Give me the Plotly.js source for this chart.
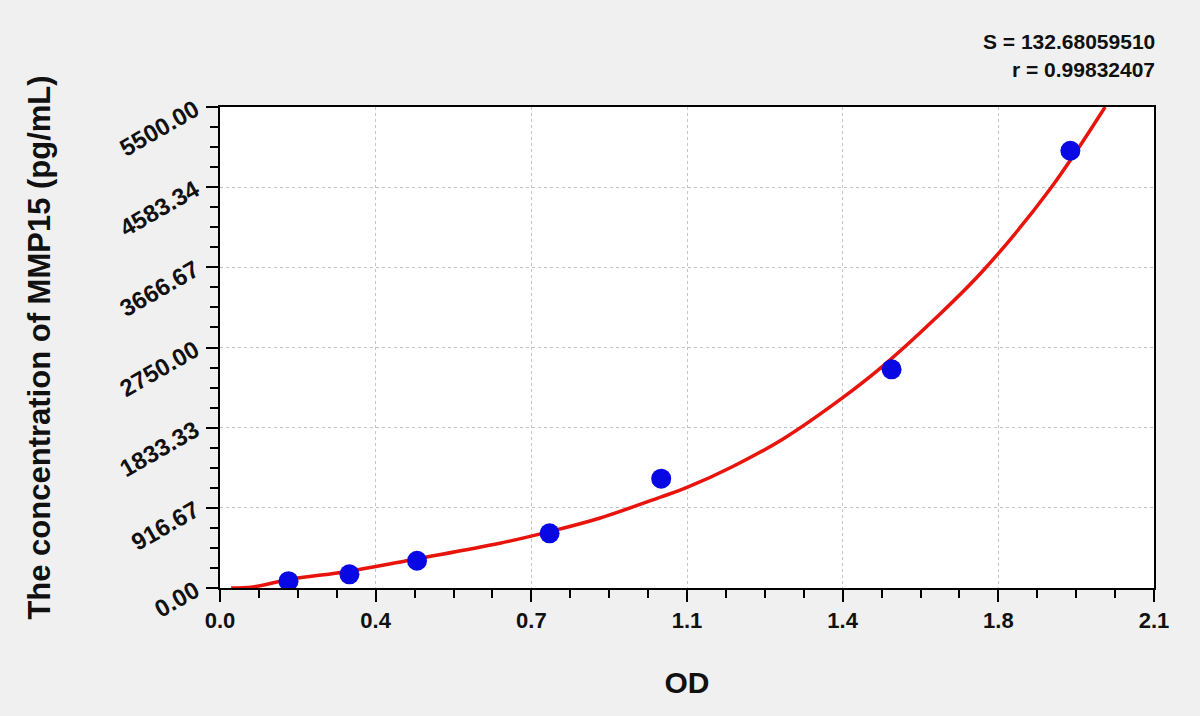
<!DOCTYPE html>
<html>
<head>
<meta charset="utf-8">
<script src="https://cdn.plot.ly/plotly-3.0.1.min.js"></script>
<style>
  html, body { margin: 0; padding: 0; background: #f0f0f0; }
  #chart { width: 1200px; height: 716px; }
</style>
</head>
<body>
<div id="chart"></div>
<script>
// standard points (OD vs concentration)
const odValues = [0.154, 0.291, 0.443, 0.741, 0.992, 1.510, 1.912];
const concValues = [78, 156, 312, 625, 1250, 2500, 5000];

// fitted curve
const curveOd = [0.025, 0.074, 0.156, 0.291, 0.441, 0.629, 0.741, 0.853, 0.992, 1.05, 1.153, 1.266, 1.401, 1.491, 1.607, 1.716, 1.866, 1.99];
const curveConc = [0, 12, 98, 192, 332, 512, 645, 798, 1042, 1150, 1390, 1705, 2180, 2540, 3075, 3630, 4560, 5500];

const xTickVals = [0, 0.35, 0.7, 1.05, 1.4, 1.75, 2.1];
const xTickText = ["0.0", "0.4", "0.7", "1.1", "1.4", "1.8", "2.1"];
const yTickVals = [0, 916.67, 1833.33, 2750, 3666.67, 4583.34, 5500];
const yTickText = ["0.00", "916.67", "1833.33", "2750.00", "3666.67", "4583.34", "5500.00"];

const FONT = "Liberation Sans, Arial, sans-serif";

const traces = [
  {
    type: "scatter",
    mode: "lines",
    x: curveOd,
    y: curveConc,
    line: { color: "#e8140c", width: 3.5, shape: "spline", smoothing: 1 },
    hoverinfo: "skip",
  },
  {
    type: "scatter",
    mode: "markers",
    x: odValues,
    y: concValues,
    marker: { color: "#0808e4", size: 20 },
  },
];

const axisBase = {
  showline: true,
  linecolor: "#000",
  linewidth: 2,
  mirror: true,
  ticks: "outside",
  ticklen: 12,
  tickwidth: 2,
  tickcolor: "#000",
  showgrid: true,
  gridcolor: "#c4c4c4",
  gridwidth: 1,
  griddash: "dot",
  zeroline: false,
};

const layout = {
  width: 1200,
  height: 716,
  paper_bgcolor: "#f0f0f0",
  plot_bgcolor: "#ffffff",
  showlegend: false,
  margin: { l: 220, r: 46, t: 107, b: 128 },
  xaxis: {
    ...axisBase,
    range: [0, 2.1],
    tickmode: "array",
    tickvals: xTickVals,
    ticktext: xTickText,
    tickfont: { family: FONT, size: 22, color: "#111", weight: "bold" },
    minor: { dtick: 0.0875, tick0: 0, ticks: "outside", ticklen: 8, tickwidth: 2, tickcolor: "#000", showgrid: false },
    title: { text: "OD", font: { family: FONT, size: 30, color: "#111", weight: "bold" }, standoff: 40 },
  },
  yaxis: {
    ...axisBase,
    range: [0, 5500],
    tickmode: "array",
    tickvals: yTickVals,
    ticktext: yTickText,
    tickangle: -30,
    ticklabelstandoff: 6,
    tickfont: { family: FONT, size: 24, color: "#111", weight: "bold" },
    minor: { dtick: 229.1667, tick0: 0, ticks: "outside", ticklen: 8, tickwidth: 2, tickcolor: "#000", showgrid: false },
    title: { text: "The concentration of MMP15 (pg/mL)", font: { family: FONT, size: 31, color: "#111", weight: "bold" }, standoff: 55 },
  },
  annotations: [
    {
      text: "S = 132.68059510",
      xref: "paper", yref: "paper",
      x: 1, y: 1, xanchor: "right", yanchor: "bottom",
      yshift: 52, xshift: 3,
      showarrow: false,
      font: { family: FONT, size: 21, color: "#111", weight: "bold" },
    },
    {
      text: "r = 0.99832407",
      xref: "paper", yref: "paper",
      x: 1, y: 1, xanchor: "right", yanchor: "bottom",
      yshift: 24, xshift: 3,
      showarrow: false,
      font: { family: FONT, size: 21, color: "#111", weight: "bold" },
    },
  ],
};

Plotly.newPlot("chart", traces, layout, { displayModeBar: false, staticPlot: true });
</script>
</body>
</html>
